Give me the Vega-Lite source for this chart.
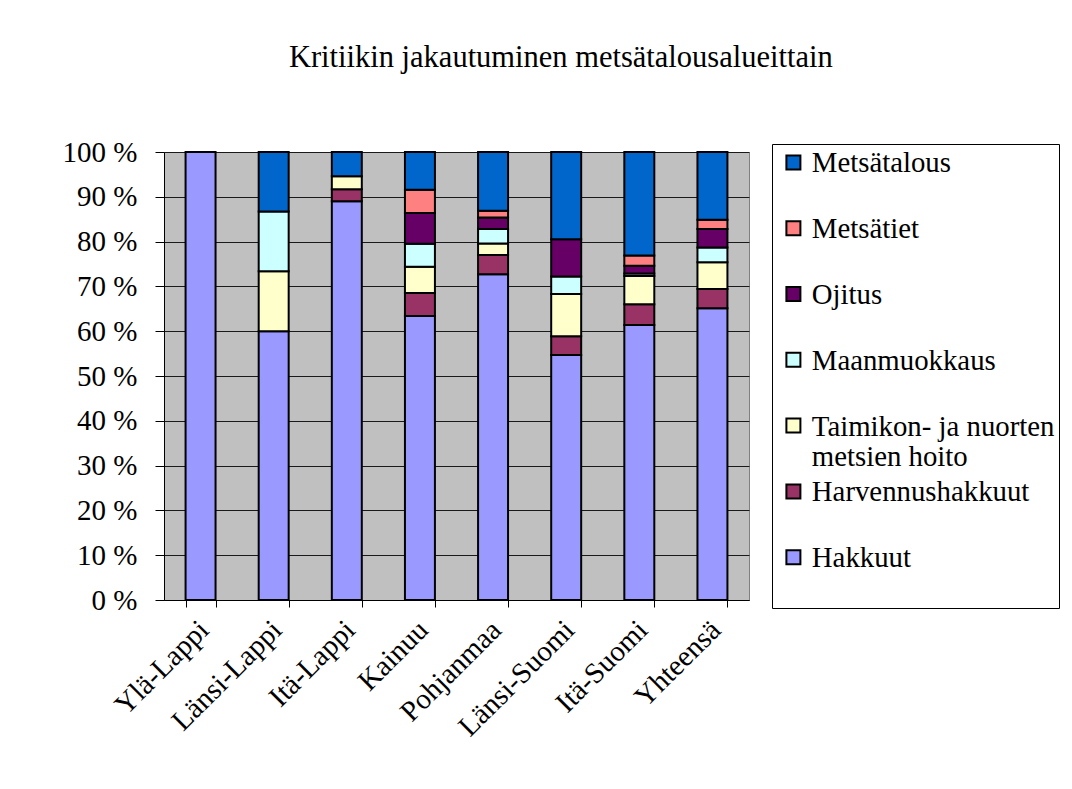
{
  "$schema": "https://vega.github.io/schema/vega-lite/v6.json",
  "width": 585,
  "height": 448,
  "autosize": {"type": "none"},
  "padding": {"left": 164, "top": 152, "right": 323, "bottom": 189},
  "background": "white",
  "title": {
    "text": "Kritiikin jakautuminen metsätalousalueittain",
    "font": "Liberation Serif",
    "fontSize": 30.5,
    "fontWeight": "normal",
    "color": "black",
    "anchor": "middle",
    "frame": "bounds",
    "offset": 65
  },
  "datasets": {
    "luokat": [
      {"luokka": "Hakkuut", "jarjestys": 1},
      {"luokka": "Harvennushakkuut", "jarjestys": 2},
      {"luokka": "Taimikon- ja nuorten metsien hoito", "jarjestys": 3},
      {"luokka": "Maanmuokkaus", "jarjestys": 4},
      {"luokka": "Ojitus", "jarjestys": 5},
      {"luokka": "Metsätiet", "jarjestys": 6},
      {"luokka": "Metsätalous", "jarjestys": 7}
    ]
  },
  "data": {
    "values": [
      {"alue": "Ylä-Lappi", "luokka": "Hakkuut", "osuus": 100},
      {"alue": "Länsi-Lappi", "luokka": "Hakkuut", "osuus": 60.0},
      {"alue": "Länsi-Lappi", "luokka": "Taimikon- ja nuorten metsien hoito", "osuus": 13.4},
      {"alue": "Länsi-Lappi", "luokka": "Maanmuokkaus", "osuus": 13.3},
      {"alue": "Länsi-Lappi", "luokka": "Metsätalous", "osuus": 13.3},
      {"alue": "Itä-Lappi", "luokka": "Hakkuut", "osuus": 89.0},
      {"alue": "Itä-Lappi", "luokka": "Harvennushakkuut", "osuus": 2.7},
      {"alue": "Itä-Lappi", "luokka": "Taimikon- ja nuorten metsien hoito", "osuus": 2.9},
      {"alue": "Itä-Lappi", "luokka": "Metsätalous", "osuus": 5.4},
      {"alue": "Kainuu", "luokka": "Hakkuut", "osuus": 63.4},
      {"alue": "Kainuu", "luokka": "Harvennushakkuut", "osuus": 5.1},
      {"alue": "Kainuu", "luokka": "Taimikon- ja nuorten metsien hoito", "osuus": 5.9},
      {"alue": "Kainuu", "luokka": "Maanmuokkaus", "osuus": 5.1},
      {"alue": "Kainuu", "luokka": "Ojitus", "osuus": 6.9},
      {"alue": "Kainuu", "luokka": "Metsätiet", "osuus": 5.2},
      {"alue": "Kainuu", "luokka": "Metsätalous", "osuus": 8.4},
      {"alue": "Pohjanmaa", "luokka": "Hakkuut", "osuus": 72.7},
      {"alue": "Pohjanmaa", "luokka": "Harvennushakkuut", "osuus": 4.3},
      {"alue": "Pohjanmaa", "luokka": "Taimikon- ja nuorten metsien hoito", "osuus": 2.6},
      {"alue": "Pohjanmaa", "luokka": "Maanmuokkaus", "osuus": 3.2},
      {"alue": "Pohjanmaa", "luokka": "Ojitus", "osuus": 2.6},
      {"alue": "Pohjanmaa", "luokka": "Metsätiet", "osuus": 1.5},
      {"alue": "Pohjanmaa", "luokka": "Metsätalous", "osuus": 13.1},
      {"alue": "Länsi-Suomi", "luokka": "Hakkuut", "osuus": 54.7},
      {"alue": "Länsi-Suomi", "luokka": "Harvennushakkuut", "osuus": 4.2},
      {"alue": "Länsi-Suomi", "luokka": "Taimikon- ja nuorten metsien hoito", "osuus": 9.4},
      {"alue": "Länsi-Suomi", "luokka": "Maanmuokkaus", "osuus": 3.9},
      {"alue": "Länsi-Suomi", "luokka": "Ojitus", "osuus": 8.3},
      {"alue": "Länsi-Suomi", "luokka": "Metsätalous", "osuus": 19.5},
      {"alue": "Itä-Suomi", "luokka": "Hakkuut", "osuus": 61.4},
      {"alue": "Itä-Suomi", "luokka": "Harvennushakkuut", "osuus": 4.6},
      {"alue": "Itä-Suomi", "luokka": "Taimikon- ja nuorten metsien hoito", "osuus": 6.3},
      {"alue": "Itä-Suomi", "luokka": "Maanmuokkaus", "osuus": 0.6},
      {"alue": "Itä-Suomi", "luokka": "Ojitus", "osuus": 1.7},
      {"alue": "Itä-Suomi", "luokka": "Metsätiet", "osuus": 2.3},
      {"alue": "Itä-Suomi", "luokka": "Metsätalous", "osuus": 23.1},
      {"alue": "Yhteensä", "luokka": "Hakkuut", "osuus": 65.1},
      {"alue": "Yhteensä", "luokka": "Harvennushakkuut", "osuus": 4.3},
      {"alue": "Yhteensä", "luokka": "Taimikon- ja nuorten metsien hoito", "osuus": 6.0},
      {"alue": "Yhteensä", "luokka": "Maanmuokkaus", "osuus": 3.3},
      {"alue": "Yhteensä", "luokka": "Ojitus", "osuus": 4.1},
      {"alue": "Yhteensä", "luokka": "Metsätiet", "osuus": 2.1},
      {"alue": "Yhteensä", "luokka": "Metsätalous", "osuus": 15.1}
    ]
  },
  "transform": [
    {"lookup": "luokka", "from": {"data": {"name": "luokat"}, "key": "luokka", "fields": ["jarjestys"]}}
  ],
  "mark": {"type": "bar", "stroke": "black", "strokeWidth": 2},
  "encoding": {
    "x": {
      "field": "alue",
      "type": "nominal",
      "sort": null,
      "title": null,
      "scale": {"paddingInner": 0.59, "paddingOuter": 0.295},
      "axis": {
        "labelAngle": -45,
        "labelFont": "Liberation Serif",
        "labelFontSize": 29,
        "labelColor": "black",
        "labelAlign": "right",
        "labelBaseline": "middle",
        "labelPadding": 18,
        "labelOffset": 3,
        "tickBand": "extent",
        "tickSize": 7,
        "tickColor": "black",
        "domainColor": "black",
        "grid": false
      }
    },
    "y": {
      "field": "osuus",
      "type": "quantitative",
      "stack": "normalize",
      "title": null,
      "scale": {"domain": [0, 1], "nice": false},
      "axis": {
        "values": [0, 0.1, 0.2, 0.3, 0.4, 0.5, 0.6, 0.7, 0.8, 0.9, 1],
        "labelExpr": "round(datum.value * 100) + ' %'",
        "labelFont": "Liberation Serif",
        "labelFontSize": 29,
        "labelColor": "black",
        "labelPadding": 18,
        "tickSize": 9,
        "tickColor": "black",
        "domainColor": "black",
        "grid": true,
        "gridColor": "#1a1a1a",
        "gridWidth": 1,
        "gridOpacity": 1
      }
    },
    "order": {"field": "jarjestys", "type": "quantitative"},
    "color": {
      "field": "luokka",
      "type": "nominal",
      "scale": {
        "domain": ["Hakkuut", "Harvennushakkuut", "Taimikon- ja nuorten metsien hoito", "Maanmuokkaus", "Ojitus", "Metsätiet", "Metsätalous"],
        "range": ["#9999FF", "#993366", "#FFFFCC", "#CCFFFF", "#660066", "#FF8080", "#0066CC"]
      },
      "legend": {
        "values": ["Metsätalous", "Metsätiet", "Ojitus", "Maanmuokkaus", "Taimikon- ja nuorten metsien hoito", "Harvennushakkuut", "Hakkuut"],
        "title": null,
        "orient": "none",
        "legendX": 608,
        "legendY": -8,
        "labelExpr": "datum.label == 'Taimikon- ja nuorten metsien hoito' ? ['Taimikon- ja nuorten', 'metsien hoito'] : [datum.label, ' ']",
        "labelFont": "Liberation Serif",
        "labelFontSize": 28.8,
        "labelColor": "black",
        "labelLimit": 400,
        "labelOffset": 4,
        "labelBaseline": "alphabetic",
        "symbolType": "square",
        "symbolSize": 196,
        "symbolOffset": 3,
        "symbolStrokeColor": "black",
        "symbolStrokeWidth": 2,
        "symbolOpacity": 1,
        "strokeColor": "black",
        "fillColor": "white",
        "padding": 4,
        "rowPadding": 4.8,
        "encoding": {"labels": {"dy": {"value": 10}}}
      }
    }
  },
  "config": {
    "font": "Liberation Serif",
    "view": {"fill": "#C0C0C0", "stroke": "#808080", "strokeWidth": 1}
  }
}
